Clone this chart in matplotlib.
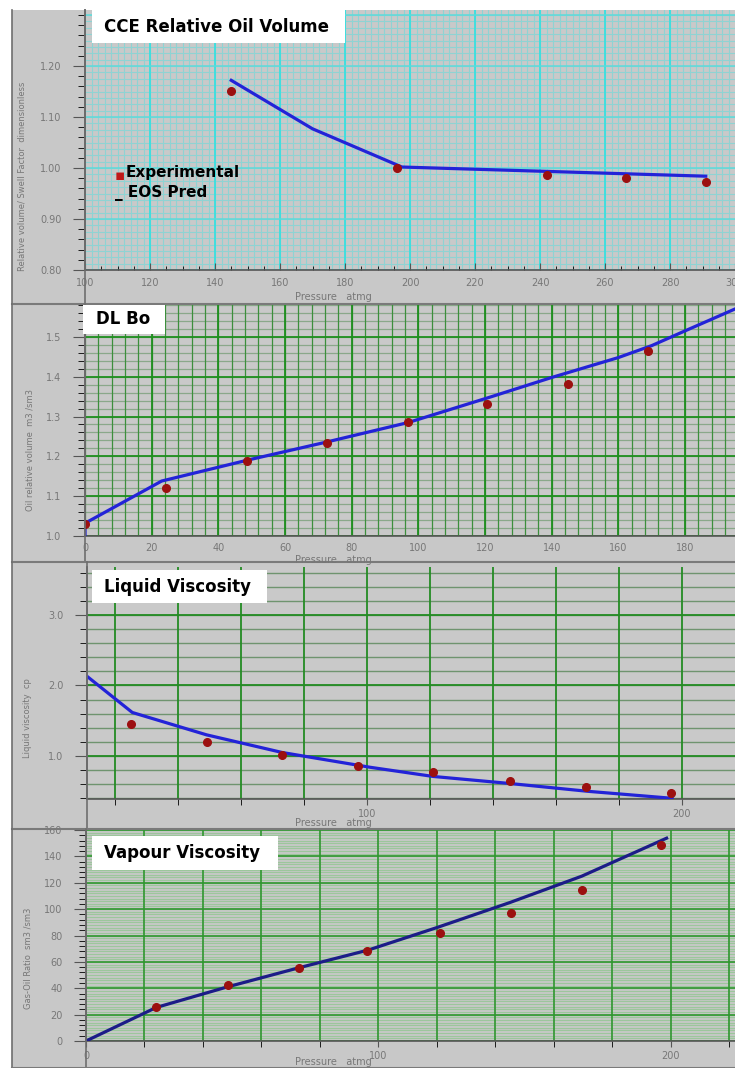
import matplotlib
matplotlib.use("Agg")
import matplotlib.pyplot as plt
import numpy as np
from matplotlib.patches import Rectangle
from matplotlib.lines import Line2D

# ---- data ----
# CCE relative oil volume
cce_p_exp = [145, 196, 242, 266.5, 291]
cce_v_exp = [1.151, 1.0, 0.986, 0.98, 0.973]
cce_p_eos = [145, 170, 197.5, 291]
cce_v_eos = [1.172, 1.077, 1.002, 0.984]

# DL Bo
bo_p_exp = [0, 24.3, 48.6, 72.6, 97, 120.6, 145, 169]
bo_v_exp = [1.03, 1.12, 1.1875, 1.2325, 1.285, 1.3325, 1.3825, 1.465]
bo_p_eos = [0, 0, 23, 48.5, 72, 97, 122, 140, 160, 170, 180, 195]
bo_v_eos = [1.0, 1.032, 1.138, 1.19, 1.235, 1.285, 1.35, 1.398, 1.448, 1.478, 1.515, 1.57]

# Liquid viscosity
visc_p_exp = [25, 49, 73, 97, 121, 145.4, 169.5, 196.5]
visc_exp = [1.46, 1.205, 1.02, 0.865, 0.77, 0.65, 0.565, 0.47]
visc_p_eos = [11, 25.4, 49, 73, 101, 121, 145.4, 170, 197]
visc_eos = [2.13, 1.617, 1.30, 1.05, 0.84, 0.71, 0.61, 0.50, 0.40]

# Vapour viscosity (GOR axis)
gor_p_exp = [24, 48.5, 73, 96, 121, 145.3, 169.6, 196.6]
gor_exp = [26, 42.3, 55.4, 68.5, 82, 97, 114.6, 149]
gor_p_eos = [0, 24, 48, 72.6, 96.6, 120, 145, 169.6, 198.6]
gor_eos = [0, 25.4, 40.8, 55.4, 69, 86, 105, 125, 153.8]

W, H = 735, 1068
BG = "#c8c8c8"
TICK_C = "#777777"
LINE_BLUE = "#2323d8"
DOT_RED = "#9c1010"

fig = plt.figure(figsize=(W / 100, H / 100), dpi=100, facecolor=BG)


def fx(x):
    return x / W


def fy(y):
    return 1 - y / H


def px_axes(left, top, right, bottom):
    ax = fig.add_axes([fx(left), fy(bottom), (right - left) / W, (bottom - top) / H])
    ax.set_facecolor("#c9c9c9")
    for s in ["top", "right"]:
        ax.spines[s].set_visible(False)
    for s in ["left", "bottom"]:
        ax.spines[s].set_color("#555555")
        ax.spines[s].set_linewidth(1.2)
    ax.tick_params(labelsize=7, labelcolor=TICK_C, color="#555555")
    return ax


def grid(ax, xs, ys, color, lw, alpha=1.0):
    for x in xs:
        ax.axvline(x, color=color, lw=lw, alpha=alpha, zorder=1)
    for y in ys:
        ax.axhline(y, color=color, lw=lw, alpha=alpha, zorder=1)


def title_box(left, top, right, bottom, text, tx, size=12):
    fig.patches.append(Rectangle((fx(left), fy(bottom)), (right - left) / W,
                                 (bottom - top) / H, transform=fig.transFigure,
                                 facecolor="white", edgecolor="none", zorder=2))
    fig.text(fx(tx), fy((top + bottom) / 2), text, fontsize=size,
             fontweight="bold", family="DejaVu Sans", va="center",
             ha="left", zorder=3)


# white strips top / left, panel frames
fig.patches.append(Rectangle((0, fy(10)), 1, 10 / H, transform=fig.transFigure,
                             facecolor="white", edgecolor="none", zorder=-1))
fig.patches.append(Rectangle((0, 0), fx(12), 1, transform=fig.transFigure,
                             facecolor="white", edgecolor="none", zorder=-1))
for top, bot, axx in [(10, 304, 85), (304, 562, 85), (562, 829, 87), (829, 1068, 86)]:
    fig.lines.append(Line2D([fx(12), fx(12)], [fy(top), fy(bot)],
                            transform=fig.transFigure, color="#6e6e6e", lw=1.2))
    fig.lines.append(Line2D([fx(axx), fx(axx)], [fy(top), fy(bot)],
                            transform=fig.transFigure, color="#6e6e6e", lw=1.2))
    fig.lines.append(Line2D([fx(12), 1], [fy(bot), fy(bot)],
                            transform=fig.transFigure, color="#7a7a7a", lw=1.5))

# ---- panel 1: CCE ----
ax1 = px_axes(85, 10, 735, 270)
ax1.set_xlim(100, 298)
ax1.set_ylim(0.8, 1.31)
grid(ax1, np.arange(100, 300, 2), np.arange(0.8, 1.31, 0.0125), "#8fd3d3", 0.8)
grid(ax1, np.arange(100, 300, 20), [], "#38e0e0", 1.3)
grid(ax1, [], np.arange(0.8, 1.31, 0.1), "#5edada", 1.1)
ax1.plot(cce_p_eos, cce_v_eos, color=LINE_BLUE, lw=2.3, zorder=4)
ax1.plot(cce_p_exp, cce_v_exp, "o", color=DOT_RED, ms=5.5, zorder=5)
ax1.set_xticks(np.arange(100, 301, 20))
ax1.set_xticks(np.arange(100, 298, 5), minor=True)
ax1.set_yticks(np.arange(0.8, 1.21, 0.1))
ax1.set_yticks(np.arange(0.8, 1.31, 0.02), minor=True)
ax1.set_yticklabels(["0.80", "0.90", "1.00", "1.10", "1.20"])
ax1.tick_params(axis="x", direction="in", length=5, pad=6)
ax1.tick_params(axis="x", which="minor", direction="in", length=3)
ax1.tick_params(axis="y", direction="out", length=9, pad=8)
ax1.tick_params(axis="y", which="minor", direction="out", length=5)
fig.text(fx(115), fy(176), "\u25aa", color="#c01818", fontsize=11, va="center", ha="left")
fig.text(fx(126), fy(172), "Experimental", fontsize=11, fontweight="bold",
         family="DejaVu Sans", va="center")
fig.text(fx(115), fy(193), "_ EOS Pred", fontsize=11, fontweight="bold",
         family="DejaVu Sans", va="center")
title_box(92, 10, 345, 43, "CCE Relative Oil Volume", 104)
fig.text(fx(22), fy(176), "Relative volume/ Swell Factor  dimensionless", rotation=90,
         fontsize=6, color=TICK_C, va="center", ha="center")
fig.text(fx(333), fy(297), "Pressure   atmg", fontsize=7, color=TICK_C,
         va="center", ha="center")

# ---- panel 2: DL Bo ----
ax2 = px_axes(85, 305, 735, 536)
ax2.set_xlim(0, 195)
ax2.set_ylim(1.0, 1.577)
grid(ax2, [], np.arange(1.0, 1.58, 0.02), "#8aa88a", 0.9)
grid(ax2, np.arange(0, 196, 4), [], "#3c8f3c", 0.9)
grid(ax2, np.arange(0, 196, 20), np.arange(1.0, 1.58, 0.1), "#1f8f1f", 1.3)
ax2.plot(bo_p_eos, bo_v_eos, color=LINE_BLUE, lw=2.3, zorder=4)
ax2.plot(bo_p_exp, bo_v_exp, "o", color=DOT_RED, ms=5.5, zorder=5)
ax2.set_xticks(np.arange(0, 181, 20))
ax2.set_yticks(np.arange(1.0, 1.51, 0.1))
ax2.set_yticks(np.arange(1.0, 1.58, 0.02), minor=True)
ax2.set_yticklabels(["1.0", "1.1", "1.2", "1.3", "1.4", "1.5"])
ax2.tick_params(axis="x", direction="in", length=0, pad=5)
ax2.tick_params(axis="y", direction="out", length=9, pad=8)
ax2.tick_params(axis="y", which="minor", direction="out", length=5)
title_box(83, 305, 165, 334, "DL Bo", 96)
fig.text(fx(30), fy(450), "Oil relative volume  m3 /sm3", rotation=90,
         fontsize=6, color=TICK_C, va="center", ha="center")
fig.text(fx(333), fy(560), "Pressure   atmg", fontsize=7, color=TICK_C,
         va="center", ha="center")

# ---- panel 3: Liquid viscosity ----
ax3 = px_axes(87, 567, 735, 799)
ax3.set_xlim(11, 217)
ax3.set_ylim(0.39, 3.68)
grid(ax3, [], np.arange(0.4, 3.7, 0.2), "#6f946f", 1.0)
grid(ax3, np.arange(20, 217, 20), np.arange(1.0, 3.1, 1.0), "#238c23", 1.3)
ax3.plot(visc_p_eos, visc_eos, color=LINE_BLUE, lw=2.3, zorder=4)
ax3.plot(visc_p_exp, visc_exp, "o", color=DOT_RED, ms=5.5, zorder=5)
ax3.set_xticks([100, 200])
ax3.set_xticks(np.arange(20, 217, 20), minor=True)
ax3.set_yticks([1.0, 2.0, 3.0])
ax3.set_yticks(np.arange(0.4, 3.7, 0.2), minor=True)
ax3.set_yticklabels(["1.0", "2.0", "3.0"])
ax3.tick_params(axis="x", direction="out", length=4, pad=3)
ax3.tick_params(axis="x", which="minor", direction="out", length=4)
ax3.tick_params(axis="y", direction="out", length=9, pad=8)
ax3.tick_params(axis="y", which="minor", direction="out", length=5)
title_box(92, 570, 267, 603, "Liquid Viscosity", 104)
fig.text(fx(28), fy(718), "Liquid viscosity  cp", rotation=90,
         fontsize=6, color=TICK_C, va="center", ha="center")
fig.text(fx(333), fy(823), "Pressure   atmg", fontsize=7, color=TICK_C,
         va="center", ha="center")

# ---- panel 4: Vapour viscosity ----
ax4 = px_axes(86, 830, 735, 1041)
ax4.set_xlim(0, 222)
ax4.set_ylim(0, 160)
grid(ax4, [], np.arange(0, 161, 2), "#9cc69c", 0.9)
grid(ax4, np.arange(0, 222, 20), np.arange(0, 161, 20), "#2f962f", 1.2)
ax4.plot(gor_p_eos, gor_eos, color="#1c1c88", lw=2.3, zorder=4)
ax4.plot(gor_p_exp, gor_exp, "o", color=DOT_RED, ms=5.5, zorder=5)
ax4.set_xticks([0, 100, 200])
ax4.set_xticks(np.arange(20, 222, 20), minor=True)
ax4.set_yticks(np.arange(0, 161, 20))
ax4.set_yticks(np.arange(0, 161, 4), minor=True)
ax4.tick_params(axis="x", direction="out", length=4, pad=3)
ax4.tick_params(axis="x", which="minor", direction="out", length=4)
ax4.tick_params(axis="y", direction="out", length=9, pad=8)
ax4.tick_params(axis="y", which="minor", direction="out", length=5)
title_box(92, 836, 278, 870, "Vapour Viscosity", 104)
fig.text(fx(28), fy(958), "Gas-Oil Ratio  sm3 /sm3", rotation=90,
         fontsize=6, color=TICK_C, va="center", ha="center")
fig.text(fx(333), fy(1062), "Pressure   atmg", fontsize=7, color=TICK_C,
         va="center", ha="center")

fig.savefig("out.png", dpi=100, facecolor=fig.get_facecolor())
